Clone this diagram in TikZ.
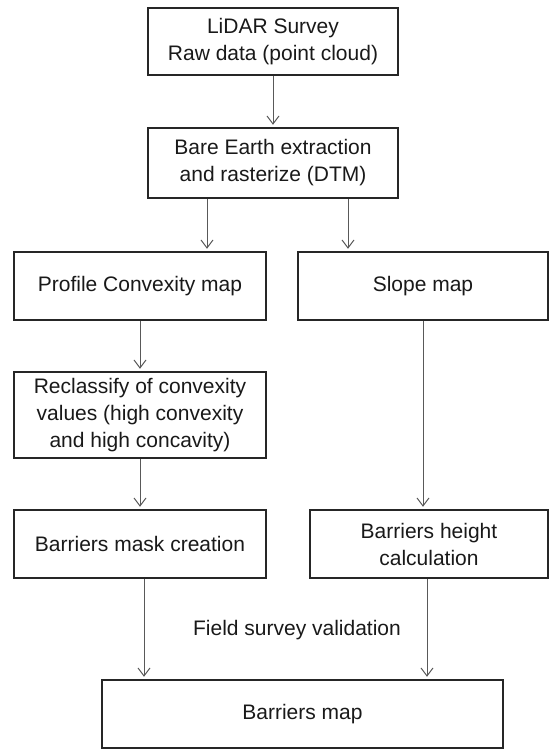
\documentclass[tikz,border=0pt]{standalone}
\usepackage{fontspec}
\setmainfont{Liberation Sans}
\usetikzlibrary{arrows.meta}
\begin{document}
\begin{tikzpicture}[x=1pt, y=-1pt,
    font=\fontsize{21}{27}\selectfont,
    stepbox/.style={draw=black!85, line width=2.4pt, align=center, inner sep=0pt, text=black!90},
    arr/.style={draw=black!65, line width=1pt, -{Straight Barb[length=8pt, width=12pt]}, shorten >=2pt}]
    % Page frame
    \useasboundingbox (0,0) rectangle (549,749);

    % Boxes
    \node[stepbox, minimum width=250pt, minimum height=67pt] (survey) at (273,41.5) {LiDAR Survey\\Raw data (point cloud)};
    \node[stepbox, minimum width=250pt, minimum height=70pt] (dtm) at (273,163) {Bare Earth extraction\\and rasterize (DTM)};
    \node[stepbox, minimum width=252pt, minimum height=68pt] (convex) at (140,286) {Profile Convexity map};
    \node[stepbox, minimum width=250pt, minimum height=68pt] (slope) at (423,286) {Slope map};
    \node[stepbox, minimum width=252pt, minimum height=86pt] (reclass) at (140,415) {Reclassify of convexity\\values (high convexity\\and high concavity)};
    \node[stepbox, minimum width=252pt, minimum height=68pt] (mask) at (140,544) {Barriers mask creation};
    \node[stepbox, minimum width=238pt, minimum height=68pt] (height) at (429,544) {Barriers height\\calculation};
    \node[stepbox, minimum width=401pt, minimum height=68pt] (map) at (302.5,714) {Barriers map};

    % Label between the last rows
    \node[text=black!90] (field) at (297,630) {Field survey validation};

    % Connectors
    \draw[arr] (survey.south) -- (dtm.north);
    \draw[arr] ([xshift=-66pt]dtm.south) -- ([xshift=-66pt]dtm.south |- convex.north);
    \draw[arr] ([xshift=75pt]dtm.south) -- ([xshift=75pt]dtm.south |- slope.north);
    \draw[arr] (convex.south) -- (reclass.north);
    \draw[arr] (slope.south) -- (slope.south |- height.north);
    \draw[arr] (reclass.south) -- (mask.north);
    \draw[arr] ([xshift=4pt]mask.south) -- ([xshift=4pt]mask.south |- map.north);
    \draw[arr] ([xshift=-2pt]height.south) -- ([xshift=-2pt]height.south |- map.north);
\end{tikzpicture}
\end{document}
